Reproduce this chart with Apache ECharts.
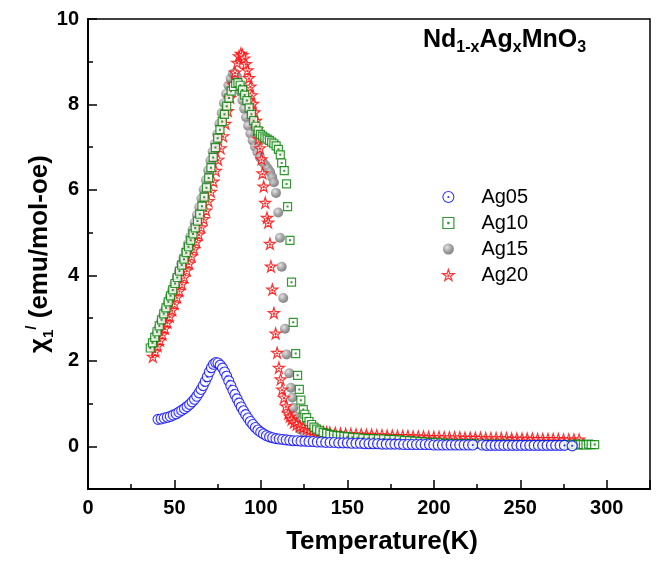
<!DOCTYPE html>
<html><head><meta charset="utf-8">
<script src="https://cdn.jsdelivr.net/npm/echarts@6/dist/echarts.min.js"></script>
<style>html,body{margin:0;padding:0;background:#fff}#c{width:658px;height:562px}</style>
</head><body><div id="c"></div>
<script>
// ---- data (Temperature K, chi' emu/mol-oe) ----
const seriesNames = ['Ag05', 'Ag10', 'Ag15', 'Ag20'];
const xTickValues = [0, 50, 100, 150, 200, 250, 300];
const yTickValues = [0, 2, 4, 6, 8, 10];

const ag05 = [[40.5,0.63],[42.3,0.64],[44.1,0.66],[45.9,0.68],[47.6,0.70],[49.3,0.73],[51.0,0.76],[52.6,0.80],[54.2,0.84],[55.8,0.88],[57.3,0.93],[58.8,0.98],[60.2,1.04],[61.6,1.10],[62.9,1.17],[64.2,1.25],[65.4,1.33],[66.6,1.42],[67.8,1.52],[69.0,1.63],[70.2,1.74],[71.4,1.84],[72.6,1.92],[73.9,1.96],[75.2,1.95],[76.5,1.90],[77.8,1.83],[79.0,1.74],[80.2,1.64],[81.4,1.53],[82.6,1.42],[83.8,1.31],[85.0,1.21],[86.2,1.11],[87.4,1.01],[88.6,0.92],[89.9,0.83],[91.2,0.74],[92.5,0.66],[93.9,0.58],[95.3,0.51],[96.8,0.44],[98.3,0.38],[99.9,0.33],[101.5,0.29],[103.2,0.25],[105.0,0.22],[106.8,0.20],[108.7,0.18],[110.6,0.17],[112.6,0.16],[114.6,0.15],[116.7,0.14],[118.8,0.13],[121.0,0.13],[123.2,0.12],[125.5,0.12],[127.8,0.11],[130.2,0.11],[132.6,0.10],[135.0,0.10],[137.5,0.09],[140.0,0.09],[142.5,0.09],[145.0,0.08],[147.5,0.08],[150.0,0.08],[152.5,0.07],[155.0,0.07],[157.5,0.07],[160.0,0.06],[162.5,0.06],[165.0,0.06],[167.5,0.06],[170.0,0.05],[172.5,0.05],[175.0,0.05],[177.5,0.05],[180.0,0.05],[182.5,0.04],[185.0,0.04],[187.5,0.04],[190.0,0.04],[192.5,0.04],[195.0,0.04],[197.5,0.04],[200.0,0.03],[202.5,0.03],[205.0,0.03],[207.5,0.03],[210.0,0.03],[212.5,0.03],[215.0,0.03],[217.5,0.03],[220.0,0.03],[222.5,0.03],[228.0,0.03],[230.5,0.02],[233.0,0.02],[235.5,0.02],[238.0,0.02],[240.5,0.02],[243.0,0.02],[245.5,0.02],[248.0,0.02],[250.5,0.02],[253.0,0.02],[255.5,0.02],[258.0,0.02],[260.5,0.02],[263.0,0.02],[265.5,0.02],[268.0,0.02],[270.5,0.02],[273.0,0.02],[275.5,0.02],[280.0,0.01]];

const ag10 = [[36.0,2.30],[37.3,2.42],[38.6,2.55],[39.9,2.68],[41.2,2.82],[42.5,2.96],[43.8,3.10],[45.1,3.24],[46.4,3.38],[47.7,3.52],[49.0,3.66],[50.3,3.81],[51.6,3.95],[52.9,4.10],[54.2,4.24],[55.5,4.38],[56.8,4.53],[58.1,4.67],[59.4,4.82],[60.7,4.97],[62.0,5.11],[63.3,5.27],[64.6,5.43],[65.9,5.62],[67.2,5.83],[68.5,6.05],[69.8,6.28],[71.1,6.52],[72.4,6.76],[73.7,6.99],[75.0,7.21],[76.3,7.41],[77.6,7.60],[78.9,7.77],[80.2,7.96],[81.5,8.15],[82.8,8.31],[84.1,8.42],[85.4,8.49],[86.7,8.51],[88.0,8.45],[89.3,8.34],[90.6,8.22],[91.9,8.09],[93.2,7.92],[94.5,7.77],[95.8,7.62],[97.1,7.49],[98.4,7.38],[99.7,7.30],[101.0,7.26],[102.3,7.22],[103.6,7.19],[104.9,7.16],[106.2,7.12],[107.5,7.08],[108.8,7.03],[110.1,6.95],[111.2,6.82],[112.0,6.63],[113.5,6.45],[114.8,6.14],[115.4,5.61],[116.8,4.82],[117.7,3.84],[118.7,2.90],[120.1,2.17],[121.2,1.66],[122.2,1.33],[123.1,1.08],[124.5,0.86],[125.4,0.75],[126.4,0.67],[127.8,0.58],[129.3,0.51],[130.7,0.45],[132.2,0.40],[134.0,0.36],[136.0,0.32],[138.0,0.30],[139.9,0.28],[142,0.26],[144,0.25],[146,0.24],[148,0.23],[150,0.22],[153,0.21],[156,0.20],[159,0.19],[162,0.18],[165,0.18],[168,0.17],[171,0.17],[174,0.16],[177,0.16],[180,0.15],[183,0.14],[186,0.13],[189,0.12],[192,0.11],[195,0.10],[198,0.09],[201,0.09],[204,0.08],[207,0.07],[210,0.07],[214,0.06],[218,0.06],[222,0.06],[226,0.05],[230,0.05],[234,0.05],[238,0.05],[242,0.05],[246,0.04],[250,0.04],[254,0.04],[258,0.04],[262,0.04],[266,0.04],[270,0.04],[274,0.04],[277,0.04],[279,0.04],[280.5,0.05],[282,0.04],[283.5,0.03],[285,0.05],[286.5,0.04],[288,0.03],[289.5,0.05],[291,0.04],[293,0.04]];

const ag15 = [[37.0,2.35],[38.3,2.49],[39.6,2.63],[40.9,2.77],[42.2,2.92],[43.5,3.06],[44.8,3.21],[46.1,3.36],[47.4,3.51],[48.7,3.66],[50.0,3.81],[51.3,3.96],[52.6,4.11],[53.9,4.27],[55.2,4.42],[56.5,4.58],[57.8,4.74],[59.1,4.90],[60.4,5.06],[61.7,5.23],[63.0,5.41],[64.3,5.60],[65.6,5.80],[66.9,6.01],[68.2,6.23],[69.5,6.46],[70.8,6.69],[72.1,6.90],[73.4,7.08],[74.7,7.30],[76.0,7.55],[77.3,7.80],[78.6,8.03],[79.9,8.25],[81.2,8.45],[82.5,8.61],[83.8,8.72],[85.0,8.73],[86.2,8.64],[87.3,8.48],[88.3,8.30],[89.3,8.10],[90.3,7.90],[91.4,7.70],[92.6,7.50],[93.9,7.32],[95.2,7.16],[96.6,7.01],[98.0,6.88],[99.5,6.76],[101.0,6.66],[102.5,6.58],[104.0,6.50],[105.3,6.42],[106.5,6.30],[107.5,6.18],[108.7,5.93],[110.0,5.47],[111.0,4.88],[112.0,4.20],[112.9,3.47],[113.9,2.75],[114.8,2.15],[116.4,1.71],[117.3,1.37],[118.1,1.14],[118.7,0.90],[119.7,0.71],[120.6,0.55],[122.5,0.40],[125.4,0.28],[128.3,0.20],[132.2,0.16],[136,0.15],[140,0.14],[144,0.13],[148,0.12],[152,0.12],[156,0.11],[160,0.10],[165,0.10],[170,0.09],[175,0.09],[180,0.08],[185,0.08],[190,0.07],[195,0.07],[200,0.06],[206,0.06],[212,0.05],[218,0.05],[224,0.05],[230,0.04],[236,0.04],[242,0.04],[248,0.04],[254,0.03],[260,0.03],[266,0.03],[272,0.03],[278,0.03]];

const ag20 = [[37.5,2.10],[38.9,2.22],[40.3,2.35],[41.7,2.48],[43.1,2.62],[44.5,2.76],[45.9,2.90],[47.3,3.04],[48.7,3.19],[50.1,3.34],[51.5,3.49],[52.9,3.64],[54.3,3.80],[55.7,3.96],[57.1,4.12],[58.5,4.28],[59.9,4.45],[61.3,4.62],[62.7,4.79],[64.1,4.96],[65.5,5.13],[66.9,5.32],[68.3,5.52],[69.7,5.74],[71.1,5.96],[72.5,6.20],[73.9,6.45],[75.3,6.71],[76.7,6.98],[78.1,7.26],[79.5,7.55],[80.9,7.85],[82.3,8.16],[83.7,8.47],[85.0,8.75],[86.2,8.98],[87.3,9.13],[88.4,9.19],[89.4,9.16],[90.4,9.08],[91.3,8.95],[92.2,8.80],[93.1,8.62],[93.9,8.42],[94.7,8.22],[95.5,8.02],[96.3,7.82],[97.1,7.62],[97.9,7.42],[98.7,7.20],[99.5,6.98],[100.3,6.72],[100.9,6.39],[101.6,6.08],[102.5,5.70],[103.5,5.35],[104.2,5.24],[105.2,4.74],[105.8,4.21],[106.6,3.67],[107.5,3.12],[108.5,2.64],[109.4,2.19],[110.4,1.84],[111.4,1.57],[112.3,1.33],[113.3,1.14],[114.5,0.94],[115.8,0.77],[116.7,0.70],[117.7,0.63],[119.1,0.56],[120.6,0.51],[122.5,0.47],[124.5,0.44],[126.5,0.41],[128.5,0.39],[130.3,0.37],[132.2,0.36],[134.1,0.35],[136.0,0.34],[137.9,0.33],[139.9,0.32],[143,0.31],[146,0.30],[149,0.29],[152,0.29],[155,0.28],[158,0.28],[161,0.27],[164,0.27],[167,0.26],[170,0.26],[173,0.25],[176,0.25],[179,0.24],[182,0.24],[185,0.24],[188,0.23],[191,0.23],[194,0.23],[197,0.22],[200,0.22],[203,0.22],[206,0.21],[209,0.21],[212,0.21],[215,0.21],[218,0.20],[221,0.20],[224,0.20],[227,0.20],[230,0.19],[233,0.19],[236,0.19],[239,0.19],[242,0.19],[245,0.18],[248,0.18],[251,0.18],[254,0.18],[257,0.18],[260,0.17],[263,0.17],[266,0.17],[269,0.17],[272,0.17],[275,0.16],[278,0.16],[281,0.16],[284,0.16]];

// ---- layout / style ----
const FONT = "'Liberation Sans', Arial, sans-serif";
const G = {left: 88, top: 19, width: 562, height: 470};
const Y_MIN = -1, Y_MAX = 10, X_MIN = 0, X_MAX = 325;

const SYM_CIRCLE = 'path://M0,-10A10,10,0,1,1,0,10A10,10,0,1,1,0,-10ZM0,-1A1,1,0,1,1,0,1A1,1,0,1,1,0,-1Z';
const SYM_SQUARE = 'path://M-10,-10H10V10H-10ZM-1,-1H1V1H-1Z';
const SYM_STAR = 'path://M0,-10L2.245,-3.09L9.511,-3.09L3.633,1.18L5.878,8.09L0,3.82L-5.878,8.09L-3.633,1.18L-9.511,-3.09L-2.245,-3.09ZM-0.8,-0.8H0.8V0.8H-0.8Z';

const styleAg05 = {color: '#fff', borderColor: '#0000ff', borderWidth: 1.1};
const styleAg10 = {color: '#fff', borderColor: '#008000', borderWidth: 1.2};
const styleAg15 = {color: {type: 'radial', x: 0.38, y: 0.35, r: 0.7, colorStops: [{offset: 0, color: '#dcdcdc'}, {offset: 0.55, color: '#8c8c8c'}, {offset: 1, color: '#5c5c5c'}]}, borderWidth: 0};
const styleAg20 = {color: '#fff', borderColor: '#ff0000', borderWidth: 1.2};

const chart = echarts.init(document.getElementById('c'), null, {renderer: 'canvas'});
const black = '#000';
const tickStyle = {color: black, width: 1.5};

const option = {
  animation: false,
  backgroundColor: '#fff',
  title: {
    text: '{m|Nd}{s|1-x}{m|Ag}{s|x}{m|MnO}{s|3}',
    left: 423, top: 24, padding: 0,
    textStyle: {
      rich: {
        m: {fontFamily: FONT, fontWeight: 'bold', fontSize: 25, lineHeight: 32, color: black},
        s: {fontFamily: FONT, fontWeight: 'bold', fontSize: 16, lineHeight: 16, color: black, verticalAlign: 'bottom'}
      }
    }
  },
  legend: {
    data: [
      {name: seriesNames[0], icon: SYM_CIRCLE, itemStyle: styleAg05},
      {name: seriesNames[1], icon: SYM_SQUARE, itemStyle: styleAg10},
      {name: seriesNames[2], icon: 'circle', itemStyle: styleAg15},
      {name: seriesNames[3], icon: SYM_STAR, itemStyle: styleAg20}
    ],
    orient: 'vertical',
    left: 437, top: 182,
    itemWidth: 56, itemHeight: 11, itemGap: 6,
    textStyle: {fontFamily: FONT, fontSize: 20, color: black, lineHeight: 20},
    selectedMode: false
  },
  grid: [
    Object.assign({show: true, borderColor: black, borderWidth: 1.5, containLabel: false, outerBoundsMode: 'none'}, G),
    {left: G.left, top: G.top, width: G.width, height: G.height * (Y_MAX - 0) / (Y_MAX - Y_MIN), containLabel: false, outerBoundsMode: 'none'}
  ],
  xAxis: [
    {gridIndex: 0, type: 'value', min: X_MIN, max: X_MAX, interval: 25, position: 'bottom',
      axisLine: {show: true, onZero: false, lineStyle: {color: black, width: 2}},
      axisTick: {show: true, inside: true, length: 5, lineStyle: tickStyle},
      axisLabel: {show: false}, splitLine: {show: false},
      name: 'Temperature(K)', nameLocation: 'middle', nameGap: 40,
      nameTextStyle: {fontFamily: FONT, fontWeight: 'bold', fontSize: 26, color: black, padding: [0, 0, 0, 26]}
    },
    {gridIndex: 0, type: 'value', min: X_MIN, max: X_MAX, interval: 50, position: 'bottom',
      axisLine: {show: false, onZero: false},
      axisTick: {show: true, inside: true, length: 9, lineStyle: tickStyle},
      axisLabel: {show: true, margin: 9, fontFamily: FONT, fontWeight: 'bold', fontSize: 20, color: black,
        formatter: v => (xTickValues.indexOf(v) >= 0 ? String(v) : '')},
      splitLine: {show: false}
    },
    {gridIndex: 1, type: 'value', min: X_MIN, max: X_MAX, show: false}
  ],
  yAxis: [
    {gridIndex: 0, type: 'value', min: Y_MIN, max: Y_MAX, interval: 1, position: 'left',
      axisLine: {show: true, onZero: false, lineStyle: {color: black, width: 2}},
      axisTick: {show: true, inside: true, length: 5, lineStyle: tickStyle},
      axisLabel: {show: false}, splitLine: {show: false},
      name: '{m|χ}{sb|1}{sp|/}{m| (emu/mol-oe)}', nameLocation: 'middle', nameGap: 32, nameRotate: 90,
      nameTextStyle: {
        rich: {
          m: {fontFamily: FONT, fontWeight: 'bold', fontSize: 26, lineHeight: 32, color: black},
          sb: {fontFamily: FONT, fontWeight: 'bold', fontSize: 15, lineHeight: 15, color: black, verticalAlign: 'bottom'},
          sp: {fontFamily: FONT, fontWeight: 'bold', fontSize: 15, lineHeight: 15, color: black, verticalAlign: 'top'}
        }
      }
    },
    {gridIndex: 1, type: 'value', min: 0, max: Y_MAX, interval: 2, position: 'left',
      axisLine: {show: false, onZero: false},
      axisTick: {show: true, inside: true, length: 9, lineStyle: tickStyle},
      axisLabel: {show: true, margin: 9, fontFamily: FONT, fontWeight: 'bold', fontSize: 20, color: black,
        formatter: v => (yTickValues.indexOf(v) >= 0 ? String(v) : '')},
      splitLine: {show: false}
    }
  ],
  series: [
    {name: 'Ag15', type: 'scatter', xAxisIndex: 0, yAxisIndex: 0, data: ag15, symbol: 'circle', symbolSize: 10, itemStyle: styleAg15},
    {name: 'Ag20', type: 'scatter', xAxisIndex: 0, yAxisIndex: 0, data: ag20, symbol: SYM_STAR, symbolSize: 11, itemStyle: styleAg20},
    {name: 'Ag10', type: 'scatter', xAxisIndex: 0, yAxisIndex: 0, data: ag10, symbol: SYM_SQUARE, symbolSize: 8, itemStyle: styleAg10},
    {name: 'Ag05', type: 'scatter', xAxisIndex: 0, yAxisIndex: 0, data: ag05, symbol: SYM_CIRCLE, symbolSize: 10, itemStyle: styleAg05}
  ]
};
chart.setOption(option);
</script></body></html>
